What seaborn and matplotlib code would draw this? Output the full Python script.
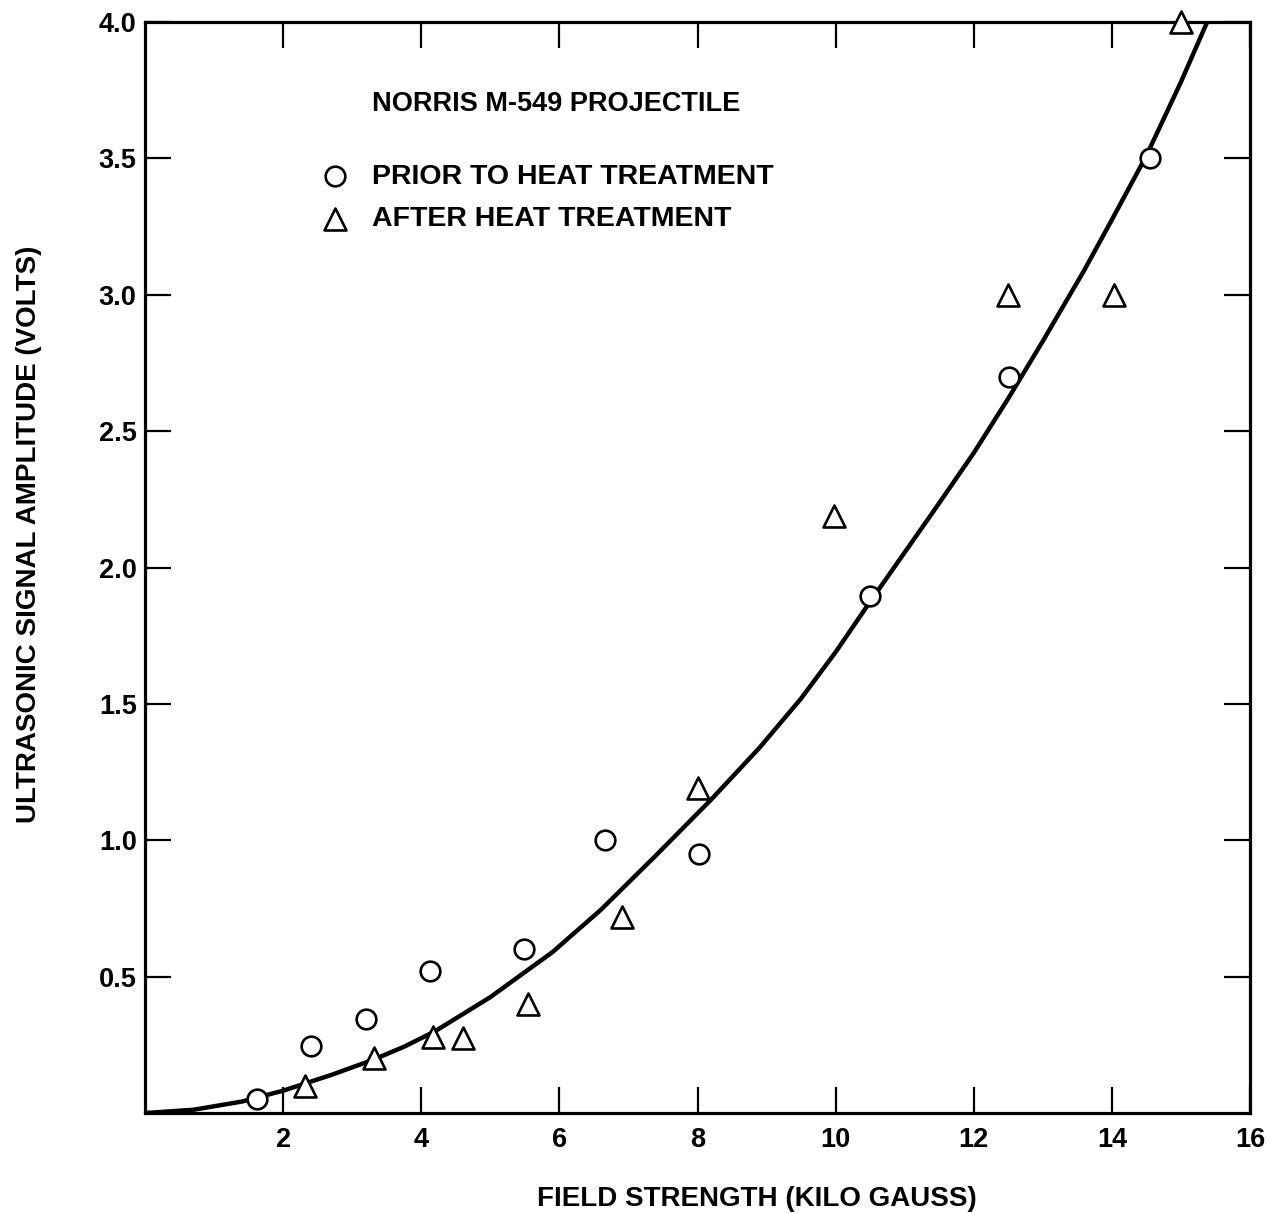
import numpy as np
import pandas as pd
import matplotlib
matplotlib.use('Agg')
import matplotlib.pyplot as plt
import seaborn as sns

prior_field = [1.62, 2.40, 3.20, 4.13, 5.49, 6.66, 8.02, 10.50, 12.51, 14.55]
prior_amp = [0.05, 0.245, 0.345, 0.52, 0.60, 1.00, 0.95, 1.895, 2.70, 3.50]

after_field = [2.32, 3.32, 4.17, 4.60, 5.55, 6.90, 8.00, 9.98, 12.50, 14.03, 15.00]
after_amp = [0.10, 0.20, 0.28, 0.275, 0.40, 0.72, 1.19, 2.19, 3.00, 3.00, 4.00]

# fitted curve
curve_field = [0.0, 0.7, 1.4, 2.0, 2.7, 3.3, 3.75, 4.2, 5.0, 5.9, 6.6, 7.4, 8.2, 8.9,
               9.5, 10.0, 10.5, 11.4, 12.0, 12.5, 13.0, 13.6, 14.0, 14.5, 15.0, 15.38]
curve_amp = [0.0, 0.012, 0.042, 0.082, 0.140, 0.195, 0.243, 0.30, 0.425, 0.59, 0.745,
             0.945, 1.15, 1.34, 1.52, 1.69, 1.875, 2.20, 2.42, 2.62, 2.83, 3.09,
             3.275, 3.51, 3.78, 4.0]

x_ticks = [2, 4, 6, 8, 10, 12, 14, 16]
y_ticks = [0.5, 1.0, 1.5, 2.0, 2.5, 3.0, 3.5, 4.0]
y_tick_labels = ['0.5', '1.0', '1.5', '2.0', '2.5', '3.0', '3.5', '4.0']

sns.set_style('ticks', {'axes.edgecolor': 'black', 'xtick.color': 'black',
                        'ytick.color': 'black', 'text.color': 'black',
                        'axes.labelcolor': 'black'})
plt.rcParams['font.family'] = ['Liberation Sans', 'DejaVu Sans']
plt.rcParams['font.weight'] = 'bold'

fig = plt.figure(figsize=(12.71, 12.13), dpi=100)
ax = fig.add_axes([0.1141, 0.0824, 0.8694, 0.8995])

df_curve = pd.DataFrame({'field': curve_field, 'amp': curve_amp})
sns.lineplot(data=df_curve, x='field', y='amp', sort=False, estimator=None,
             color='black', linewidth=3.2, ax=ax)

sns.scatterplot(x=prior_field, y=prior_amp, marker='o', s=200, facecolors='white',
                edgecolor='black', linewidth=1.9, label='PRIOR TO HEAT TREATMENT',
                ax=ax, zorder=3)
sns.scatterplot(x=after_field, y=after_amp, marker='^', s=250, facecolors='white',
                edgecolor='black', linewidth=1.9, label='AFTER HEAT TREATMENT',
                ax=ax, zorder=3, clip_on=False)

ax.set_xlim(0, 16)
ax.set_ylim(0, 4.0)
ax.set_xticks(x_ticks)
ax.set_xticklabels([str(t) for t in x_ticks])
ax.set_yticks(y_ticks)
ax.set_yticklabels(y_tick_labels)

ax.tick_params(direction='in', length=19, width=1.6, top=True, right=True,
               labelsize=19.5, pad=6)
ax.tick_params(axis='x', pad=10)
for side in ['left', 'right', 'top', 'bottom']:
    ax.spines[side].set_linewidth(2.3)
    ax.spines[side].set_visible(True)

ax.set_xlabel('FIELD STRENGTH (KILO GAUSS)', fontsize=20, fontweight='bold')
ax.set_ylabel('ULTRASONIC SIGNAL AMPLITUDE (VOLTS)', fontsize=20, fontweight='bold')
ax.xaxis.set_label_coords(0.554, -0.067)
ax.yaxis.set_label_coords(-0.093, 0.53)

ax.text(0.2054, 0.9248, 'NORRIS M-549 PROJECTILE', transform=ax.transAxes,
        fontsize=19.5, fontweight='bold', va='center', ha='left')

ax.legend(loc='upper left', bbox_to_anchor=(0.159, 0.870), frameon=False,
          fontsize=20.5, handlelength=1.0, handletextpad=0.79, labelspacing=0.58,
          borderpad=0, borderaxespad=0)

fig.savefig('out.png', dpi=100)
